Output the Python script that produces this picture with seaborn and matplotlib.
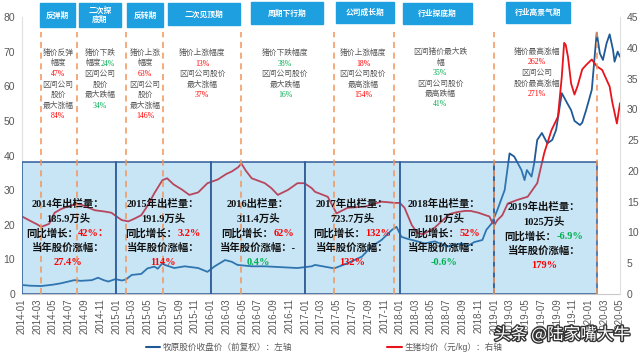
import matplotlib
matplotlib.use('Agg')
import pandas as pd
import numpy as np
import seaborn as sns
import matplotlib.pyplot as plt
import matplotlib.dates as mdates
from matplotlib.patches import Rectangle
from matplotlib.lines import Line2D
import matplotlib.patheffects as pe

# ---- data ----
pig_dates = ['2014-01-01', '2014-02-01', '2014-03-01', '2014-03-16', '2014-04-16', '2014-05-07', '2014-06-01',
             '2014-06-25', '2014-08-01', '2014-08-19', '2014-09-16', '2014-10-10', '2014-11-16', '2014-12-13',
             '2015-01-01', '2015-01-22', '2015-02-16', '2015-03-10', '2015-04-07', '2015-05-01', '2015-05-28',
             '2015-06-28', '2015-07-16', '2015-08-10', '2015-09-10', '2015-10-10', '2015-11-13', '2015-12-19',
             '2016-01-28', '2016-03-01', '2016-03-22', '2016-04-16', '2016-04-28', '2016-05-16', '2016-06-07',
             '2016-07-28', '2016-08-22', '2016-09-16', '2016-10-25', '2016-12-01', '2016-12-28', '2017-01-25',
             '2017-02-07', '2017-03-28', '2017-05-01', '2017-06-13', '2017-08-19', '2017-10-22', '2017-12-13',
             '2018-01-01', '2018-01-19', '2018-02-16', '2018-03-10', '2018-04-01', '2018-04-22', '2018-05-16',
             '2018-06-16', '2018-07-13', '2018-08-10', '2018-09-10', '2018-10-01', '2018-11-01', '2018-11-28',
             '2018-12-13', '2018-12-22', '2019-01-01', '2019-01-13', '2019-02-01', '2019-02-22', '2019-04-01',
             '2019-05-10', '2019-06-16', '2019-07-13', '2019-08-10', '2019-09-04', '2019-09-19', '2019-09-28',
             '2019-10-04', '2019-10-13', '2019-10-25', '2019-11-07', '2019-11-19', '2019-12-07', '2019-12-22',
             '2020-01-13', '2020-02-01', '2020-02-22', '2020-03-22', '2020-04-01', '2020-04-19', '2020-05-01']
pig_price = [12.6, 11.9, 11.3, 10.9, 11.4, 13.2, 13.8,
             14.2, 14.6, 14.5, 14.0, 13.6, 13.4, 13.2,
             12.6, 12.0, 11.8, 12.2, 12.8, 14.3, 16.4,
             18.5, 18.8, 17.8, 17.0, 16.1, 16.5, 18.0,
             18.6, 19.5, 19.9, 20.6, 21.2, 20.0, 18.8,
             18.0, 17.2, 16.1, 16.9, 18.0, 18.0, 17.2,
             16.6, 15.8, 13.1, 14.0, 14.2, 15.0, 14.8,
             14.8, 14.0, 11.2, 9.9, 9.7, 10.2, 10.8,
             12.0, 13.0, 13.3, 13.5, 13.5, 13.2, 12.8,
             12.6, 11.8, 11.2, 12.0, 12.8, 14.7, 15.3,
             15.8, 18.0, 22.9, 26.6, 28.8, 35.3, 40.8,
             40.5, 38.5, 34.2, 32.4, 33.8, 36.5, 37.2,
             38.1, 37.0, 36.4, 33.7, 31.2, 27.7, 31.0]

stock_dates = ['2014-01-01', '2014-02-01', '2014-03-16', '2014-05-01', '2014-06-01', '2014-07-22', '2014-08-16',
               '2014-09-28', '2014-10-22', '2014-11-13', '2014-12-01', '2014-12-28', '2015-01-22', '2015-02-07',
               '2015-03-01', '2015-04-07', '2015-05-01', '2015-05-28', '2015-06-10', '2015-06-28', '2015-07-07',
               '2015-08-13', '2015-09-22', '2015-11-13', '2015-12-19', '2016-01-16', '2016-02-25', '2016-03-22',
               '2016-04-13', '2016-06-07', '2016-07-28', '2016-09-16', '2016-12-01', '2017-01-25', '2017-02-07',
               '2017-04-22', '2017-06-13', '2017-08-07', '2017-09-13', '2017-10-22', '2017-12-01', '2017-12-19',
               '2018-01-07', '2018-02-01', '2018-02-28', '2018-04-07', '2018-05-16', '2018-07-04', '2018-08-28',
               '2018-09-16', '2018-10-16', '2018-11-16', '2018-12-01', '2018-12-22', '2019-01-13', '2019-02-10',
               '2019-03-01', '2019-03-19', '2019-04-16', '2019-04-28', '2019-05-07', '2019-05-25', '2019-06-04',
               '2019-06-16', '2019-07-04', '2019-07-25', '2019-08-13', '2019-08-28', '2019-09-19', '2019-10-10',
               '2019-10-25', '2019-11-07', '2019-11-28', '2019-12-07', '2019-12-22', '2020-01-13', '2020-02-01',
               '2020-02-13', '2020-02-25', '2020-03-10', '2020-03-22', '2020-04-04', '2020-04-10', '2020-04-22',
               '2020-05-01']
stock_price = [2.6, 2.4, 2.3, 2.7, 3.1, 4.0, 3.8,
               4.0, 4.7, 4.0, 3.6, 4.3, 3.9, 4.2,
               5.5, 5.8, 7.4, 7.9, 7.3, 8.9, 8.4,
               7.5, 8.0, 7.5, 6.4, 8.0, 9.8, 9.3,
               8.4, 8.0, 8.0, 7.8, 7.5, 8.0, 8.4,
               7.4, 8.9, 10.8, 13.7, 15.6, 18.5, 19.4,
               16.5, 15.9, 15.4, 14.6, 15.2, 13.7, 14.6,
               13.7, 15.0, 15.6, 18.5, 20.4, 24.3, 30.0,
               40.6, 39.7, 35.8, 32.9, 35.8, 33.9, 37.7,
               44.5, 46.5, 43.5, 44.5, 47.4, 58.0, 55.1,
               53.1, 50.0, 48.8, 49.5, 53.1, 59.0, 75.5,
               69.5, 67.6, 72.4, 75.0, 70.5, 67.1, 70.0,
               68.5]

box_start = ['2014-01-01', '2015-01-01', '2016-01-01', '2017-01-01', '2018-01-01', '2019-01-01']
box_end = ['2015-01-01', '2016-01-01', '2017-01-01', '2018-01-01', '2019-01-01', '2020-02-01']
box_top = 21.4   # right-axis units
period_dates = ['2014-03-16', '2014-08-01', '2015-02-07', '2015-07-01', '2016-04-28',
                '2017-04-22', '2017-12-08', '2019-01-01', '2020-02-01']
period_top = 42.6

stage_names = ['反弹期', '二次探\n底期', '反转期', '二次见顶期', '周期下行期', '公司成长期', '行业探底期', '行业高景气期']

GRAY = '#595959'
RED = '#FF0000'
GREEN = '#00B050'
BLACK = '#111111'
BLUE = '#1F5A96'
PIGRED = '#E8141C'

stage_notes = [
    (58, 53, [[('猪价反弹', GRAY)], [('幅度', GRAY)], [('47%', RED)], [('区间公司', GRAY)], [('股价', GRAY)],
              [('最大涨幅', GRAY)], [('84%', RED)]]),
    (100, 53, [[('猪价下跌', GRAY)], [('幅度', GRAY), ('24%', GREEN)], [('区间公司', GRAY)], [('股价', GRAY)],
               [('最大跌幅', GRAY)], [('34%', GREEN)]]),
    (145, 53, [[('猪价上涨', GRAY)], [('幅度', GRAY)], [('63%', RED)], [('区间公司', GRAY)], [('股价', GRAY)],
               [('最大涨幅', GRAY)], [('146%', RED)]]),
    (202, 53, [[('猪价上涨幅度', GRAY)], [('13%', RED)], [('区间公司股价', GRAY)], [('最大涨幅', GRAY)], [('37%', RED)]]),
    (285, 53, [[('猪价下跌幅度', GRAY)], [('38%', GREEN)], [('区间公司股价', GRAY)], [('最大跌幅', GRAY)], [('16%', GREEN)]]),
    (363, 53, [[('猪价上涨幅度', GRAY)], [('18%', RED)], [('区间公司股价', GRAY)], [('最高涨幅', GRAY)], [('154%', RED)]]),
    (440, 52, [[('区间猪价最大跌', GRAY)], [('幅', GRAY)], [('35%', GREEN)], [('区间公司股价', GRAY)],
               [('最高跌幅', GRAY)], [('41%', GREEN)]]),
    (537, 52, [[('猪价最高涨幅', GRAY)], [('262%', RED)], [('区间公司', GRAY)], [('股价最高涨幅', GRAY)], [('271%', RED)]]),
]

year_notes = [
    (68, 204, [[('2014年出栏量：', BLACK)], [('185.9万头', BLACK)], [('同比增长：', BLACK), ('42%：', RED)],
               [('当年股价涨幅：', BLACK)], [('27.4%', RED)]]),
    (163, 204, [[('2015年出栏量：', BLACK)], [('191.9万头', BLACK)], [('同比增长：', BLACK), ('3.2%', RED)],
                [('当年股价涨幅：', BLACK)], [('114%', RED)]]),
    (258, 204, [[('2016出栏量：', BLACK)], [('311.4万头', BLACK)], [('同比增长：', BLACK), ('62%', RED)],
                [('当年股价涨幅：-', BLACK)], [('0.4%', GREEN)]]),
    (352, 204, [[('2017年出栏量：', BLACK)], [('723.7万头', BLACK)], [('同比增长：', BLACK), ('132%', RED)],
                [('当年股价涨幅：', BLACK)], [('132%', RED)]]),
    (444, 204, [[('2018年出栏量：', BLACK)], [('1101万头', BLACK)], [('同比增长：', BLACK), ('52%', RED)],
                [('当年股价涨幅：', BLACK)], [('-0.6%', GREEN)]]),
    (544, 207, [[('2019年出栏量：', BLACK)], [('1025万头', BLACK)], [('同比增长：', BLACK), ('-6.9%', GREEN)],
                [('当年股价涨幅：', BLACK)], [('179%', RED)]]),
]

# header boxes, pixel rectangles (x0, x1, y0, y1)
stage_boxes = [(40, 75, 3, 27), (79, 121, 3, 27), (127, 163, 3, 27), (168, 240, 3, 25),
               (251, 323, 2, 24), (336, 394, 2, 23), (403, 472, 3, 24), (506, 570, 2, 23)]

W, H = 640, 356

sns.set_style('white')
plt.rcParams['font.family'] = ['Liberation Sans', 'Noto Sans CJK SC', 'DejaVu Sans']
plt.rcParams['axes.unicode_minus'] = False

pig = pd.DataFrame({'date': pd.to_datetime(pig_dates), 'price': pig_price})
stock = pd.DataFrame({'date': pd.to_datetime(stock_dates), 'price': stock_price})

fig = plt.figure(figsize=(6.4, 3.56), dpi=100)
ax = fig.add_axes([22 / W, 1 - 294 / H, 598 / W, 277 / H])
ax2 = ax.twinx()

sns.lineplot(data=stock, x='date', y='price', ax=ax, color=BLUE, lw=1.3, legend=False)
sns.lineplot(data=pig, x='date', y='price', ax=ax2, color=PIGRED, lw=1.3, legend=False, zorder=2)

# yearly boxes
bs = pd.to_datetime(box_start)
be = pd.to_datetime(box_end)
ax2.bar(bs, box_top, width=(be - bs).days, align='edge', color=(0.33, 0.69, 0.90, 0.32),
        edgecolor='#2F5C99', linewidth=1.1, zorder=3)

# period boundaries
ax2.vlines(pd.to_datetime(period_dates), 0, period_top, colors='#F2955A', linestyles=(0, (4, 3)),
           linewidth=1.1, zorder=4)

ax.set_xlim(pd.Timestamp('2014-01-01'), pd.Timestamp('2020-05-01'))
ax.set_ylim(0, 80)
ax2.set_ylim(0, 45)
ax.set_yticks(range(0, 81, 10))
ax2.set_yticks(range(0, 46, 5))
ax.xaxis.set_major_locator(mdates.MonthLocator(bymonth=[1, 3, 5, 7, 9, 11]))
ax.xaxis.set_major_formatter(mdates.DateFormatter('%Y-%m'))
ax.set_xlabel('')
ax.set_ylabel('')
ax2.set_ylabel('')
ax.tick_params(axis='x', length=0, labelsize=7, colors=GRAY, rotation=90, pad=3)
ax.tick_params(axis='y', length=0, labelsize=7.5, colors=GRAY, pad=5)
ax2.tick_params(axis='y', length=0, labelsize=7.5, colors=GRAY, pad=5)
for a in (ax, ax2):
    a.spines['top'].set_visible(False)
ax.spines['left'].set_color('#E0E0E0')
ax.spines['right'].set_visible(False)
ax.spines['bottom'].set_color('#C8C8C8')
ax2.spines['left'].set_visible(False)
ax2.spines['bottom'].set_visible(False)
ax2.spines['right'].set_color('#E0E0E0')

renderer = fig.canvas.get_renderer()


def put_line(xc, y, parts, size, family, weight='normal'):
    texts, widths = [], []
    for s, c in parts:
        t = fig.text(0, 0, s, color=c, fontsize=size, family=family, fontweight=weight,
                     ha='left', va='center', zorder=10)
        widths.append(t.get_window_extent(renderer=renderer).width)
        texts.append(t)
    x = xc - sum(widths) / 2
    for t, w in zip(texts, widths):
        t.set_position((x / W, 1 - y / H))
        x += w


serif = ['Liberation Serif', 'Noto Sans CJK SC']
for xc, y0, lines in stage_notes:
    for i, parts in enumerate(lines):
        put_line(xc, y0 + i * 10.5, parts, 5.6, serif)

for xc, y0, lines in year_notes:
    for i, parts in enumerate(lines):
        put_line(xc, y0 + i * 14.7, parts, 7.5, serif, weight='bold')

for (x0, x1, y0, y1), name in zip(stage_boxes, stage_names):
    fig.add_artist(Rectangle((x0 / W, 1 - y1 / H), (x1 - x0) / W, (y1 - y0) / H,
                             transform=fig.transFigure, color='#1E9FE0', zorder=5))
    fig.text((x0 + x1) / 2 / W, 1 - (y0 + y1) / 2 / H, name, color='white', fontsize=5.6,
             fontweight='bold', ha='center', va='center', linespacing=1.1, zorder=6,
             family=['Noto Sans CJK SC', 'DejaVu Sans'])

handles = [Line2D([], [], color=BLUE, lw=1.5), Line2D([], [], color=PIGRED, lw=1.5)]
fig.legend(handles, ['牧原股价收盘价（前复权）：左轴', '生猪均价（元/kg）：右轴'],
           loc='center', bbox_to_anchor=(324 / W, 1 - 347 / H), ncol=2, frameon=False,
           fontsize=6.2, columnspacing=11, handlelength=1.7, handletextpad=0.3, labelcolor=GRAY)

fig.text(562 / W, 1 - 335 / H, '头条 @陆家嘴大牛', color='white', fontsize=12, ha='center', va='center',
         family=['Noto Sans CJK SC', 'DejaVu Sans'], zorder=11,
         path_effects=[pe.withStroke(linewidth=2, foreground='#333333')])

fig.savefig('out.png', dpi=100)
